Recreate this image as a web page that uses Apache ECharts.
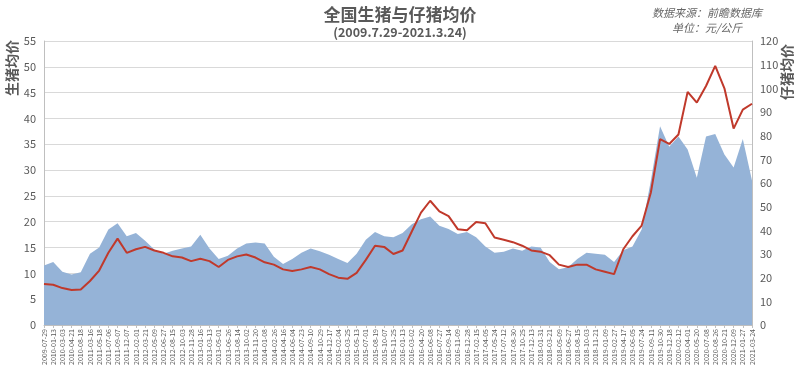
<!DOCTYPE html>
<html>
<head>
<meta charset="utf-8">
<script src="https://cdn.jsdelivr.net/npm/echarts@6/dist/echarts.min.js"></script>
<style>html,body{margin:0;padding:0;background:#fff;}#c{width:800px;height:376px;}</style>
</head>
<body>
<div id="c"></div>
<script>
const categories = ['2009-07-29','2010-01-13','2010-03-03','2010-04-21','2010-08-18','2011-03-16','2011-05-18','2011-07-06','2011-09-07','2011-12-07','2012-02-01','2012-03-21','2012-05-09','2012-06-27','2012-08-15','2012-10-03','2012-11-28','2013-01-16','2013-03-13','2013-05-01','2013-06-26','2013-08-14','2013-10-02','2013-11-20','2014-01-08','2014-02-26','2014-04-16','2014-06-04','2014-07-23','2014-09-10','2014-10-29','2014-12-17','2015-02-04','2015-03-25','2015-05-13','2015-07-01','2015-08-19','2015-10-07','2015-11-25','2016-01-13','2016-03-02','2016-04-20','2016-06-08','2016-07-27','2016-09-14','2016-11-09','2016-12-28','2017-02-15','2017-04-05','2017-05-24','2017-07-12','2017-08-30','2017-10-25','2017-12-13','2018-01-31','2018-03-21','2018-05-09','2018-06-27','2018-08-15','2018-10-03','2018-11-21','2019-01-09','2019-02-27','2019-04-17','2019-06-05','2019-07-24','2019-09-11','2019-10-30','2019-12-18','2020-02-12','2020-04-01','2020-05-20','2020-07-08','2020-08-26','2020-10-21','2020-12-09','2021-01-27','2021-03-24'];

// 生猪均价 (left axis, 元/公斤)
const hogPrice = [11.5,12.2,10.3,9.8,10.2,13.8,15.0,18.5,19.7,17.2,17.8,16.3,14.6,13.8,14.4,14.8,15.2,17.5,14.8,12.8,13.4,14.8,15.8,16.0,15.8,13.2,11.8,12.8,14.0,14.8,14.3,13.6,12.8,12.0,13.8,16.5,18.0,17.2,17.0,17.8,19.5,20.5,21.0,19.2,18.6,17.6,18.0,17.0,15.2,14.0,14.2,14.8,14.4,15.2,15.0,12.2,10.8,11.2,12.8,14.0,13.8,13.6,12.2,14.5,15.2,18.5,28.0,38.5,34.5,36.5,34.0,28.5,36.5,37.0,33.0,30.5,36.0,28.0];

// 仔猪均价 (right axis, 元/公斤)
const pigletPrice = [17.3,17.0,15.6,14.8,15.0,18.6,23.0,30.5,36.5,30.5,32.0,33.0,31.5,30.5,29.0,28.5,27.0,28.0,27.0,24.5,27.5,29.0,29.8,28.5,26.5,25.5,23.5,22.8,23.5,24.5,23.5,21.5,20.0,19.5,22.0,27.5,33.5,33.0,30.0,31.5,39.5,47.5,52.5,48.0,46.0,40.5,40.0,43.5,43.0,37.0,36.0,35.0,33.5,31.5,31.0,29.5,25.5,24.5,25.5,25.5,23.5,22.5,21.5,32.0,37.5,42.0,56.0,78.5,76.5,80.5,98.5,94.0,101.0,109.5,100.0,83.0,91.0,93.5];

const leftTicks = {min: 0, max: 55, interval: 5};
const rightTicks = {min: 0, max: 120, interval: 10};

const FONT = '"Noto Sans CJK SC", "Noto Sans", sans-serif';
const chart = echarts.init(document.getElementById('c'));
chart.setOption({
  animation: false,
  backgroundColor: '#fff',
  textStyle: {fontFamily: FONT},
  title: [
    {text: '全国生猪与仔猪均价', left: 'center', top: 1,
     textStyle: {fontSize: 17, fontWeight: 'bold', color: '#595959', fontFamily: FONT}},
    {text: '(2009.7.29-2021.3.24)', left: 'center', top: 21,
     textStyle: {fontSize: 12.5, fontWeight: 'bold', color: '#595959', fontFamily: FONT}}
  ],
  graphic: [
    {type: 'text', left: 652, top: 7, style: {text: '数据来源：前瞻数据库', fill: '#666', font: 'italic 11px ' + FONT}},
    {type: 'text', left: 672, top: 22, style: {text: '单位：元/公斤', fill: '#666', font: 'italic 11px ' + FONT}},
    {type: 'text', x: 12, y: 68, rotation: Math.PI / 2,
     style: {text: '生猪均价', fill: '#595959', font: 'bold 14px ' + FONT, align: 'center', verticalAlign: 'middle'}},
    {type: 'text', x: 787, y: 72, rotation: Math.PI / 2,
     style: {text: '仔猪均价', fill: '#595959', font: 'bold 14px ' + FONT, align: 'center', verticalAlign: 'middle'}}
  ],
  grid: {left: 44, right: 48, top: 41, bottom: 51, containLabel: false},
  xAxis: {
    type: 'category', data: categories, boundaryGap: false,
    axisLine: {lineStyle: {color: '#bfbfbf'}},
    axisTick: {show: true, interval: 0, lineStyle: {color: '#bfbfbf'}, length: 3},
    axisLabel: {interval: 0, rotate: 90, fontSize: 7, color: '#595959', margin: 4, fontFamily: FONT}
  },
  yAxis: [
    {type: 'value', min: leftTicks.min, max: leftTicks.max, interval: leftTicks.interval,
     axisLine: {show: true, lineStyle: {color: '#bfbfbf'}}, axisTick: {show: false},
     axisLabel: {fontSize: 11, color: '#595959', margin: 8, fontFamily: FONT},
     splitLine: {lineStyle: {color: '#d9d9d9'}}},
    {type: 'value', min: rightTicks.min, max: rightTicks.max, interval: rightTicks.interval,
     axisLine: {show: true, lineStyle: {color: '#bfbfbf'}}, axisTick: {show: false},
     axisLabel: {fontSize: 11, color: '#595959', margin: 8, fontFamily: FONT},
     splitLine: {show: false}}
  ],
  series: [
    {name: '生猪均价', type: 'line', yAxisIndex: 0, data: hogPrice, symbol: 'none',
     lineStyle: {width: 0}, areaStyle: {color: '#95b3d7', opacity: 1}, z: 1},
    {name: '仔猪均价', type: 'line', yAxisIndex: 1, data: pigletPrice, symbol: 'none',
     lineStyle: {width: 2, color: '#c0392b'}, itemStyle: {color: '#c0392b'}, z: 2}
  ]
});
</script>
</body>
</html>
